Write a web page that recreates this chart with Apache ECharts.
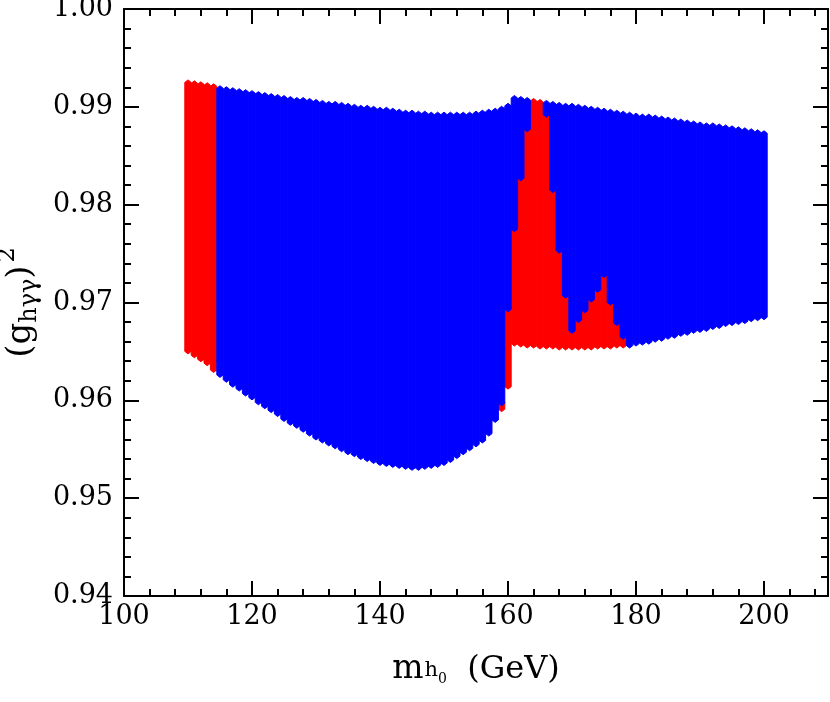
<!DOCTYPE html>
<html>
<head>
<meta charset="utf-8">
<script src="https://cdn.jsdelivr.net/npm/echarts@6/dist/echarts.min.js"></script>
<style>
  html, body { margin: 0; padding: 0; background: #fff; }
  #chart { width: 830px; height: 702px; }
</style>
</head>
<body>
<div id="chart"></div>
<script>
// Higgs mass scan, one column of points per GeV
let masses = [];
for (let m = 110; m <= 200; m++) masses.push(m);

// blue band (drawn on top), null where there is no blue point
let blueLow = [
    null, null, null, null, null,
    0.9626, 0.9621, 0.9616, 0.9612, 0.9607, 0.9603, 0.9598, 0.9594, 0.9590, 0.9586,
    0.9581, 0.9577, 0.9574, 0.9570, 0.9566, 0.9562, 0.9559, 0.9556, 0.9553, 0.9550,
    0.9547, 0.9545, 0.9542, 0.9540, 0.9538, 0.9536, 0.9535, 0.9534, 0.9533, 0.9532,
    0.9531, 0.9531, 0.9532, 0.9533, 0.9534, 0.9536, 0.9539, 0.9543, 0.9547, 0.9551,
    0.9555, 0.9559, 0.9566, 0.9580, 0.9597, 0.9693,
    0.9775, 0.9827, 0.9877, null, null, 0.9892, 0.9815, 0.9753, 0.9707, 0.9671,
    0.9682, 0.9692, 0.9703, 0.9713, 0.9728, 0.9700, 0.9679, 0.9665,
    0.9656, 0.9658, 0.9659, 0.9660, 0.9662, 0.9663, 0.9665, 0.9666, 0.9668, 0.9669,
    0.9671, 0.9672, 0.9673, 0.9675, 0.9676, 0.9678, 0.9679, 0.9680, 0.9681, 0.9683,
    0.9684, 0.9685
];
let blueHigh = [
    null, null, null, null, null,
    0.9919, 0.9918, 0.9917, 0.9916, 0.9915, 0.9914, 0.9913, 0.9912, 0.9911, 0.9910,
    0.9909, 0.9908, 0.9907, 0.9907, 0.9906, 0.9905, 0.9904, 0.9903, 0.9903, 0.9902,
    0.9901, 0.9900, 0.9899, 0.9899, 0.9898, 0.9897, 0.9897, 0.9896, 0.9895, 0.9894,
    0.9894, 0.9893, 0.9893, 0.9892, 0.9892, 0.9892, 0.9892, 0.9892, 0.9892, 0.9892,
    0.9893, 0.9894, 0.9895, 0.9896, 0.9898, 0.9901,
    0.9909, 0.9908, 0.9907, null, null, 0.9904, 0.9903, 0.9902, 0.9901, 0.9901,
    0.9900, 0.9899, 0.9898, 0.9897, 0.9896, 0.9895, 0.9894, 0.9893,
    0.9892, 0.9891, 0.9890, 0.9890, 0.9889, 0.9888, 0.9887, 0.9886, 0.9885, 0.9884,
    0.9883, 0.9882, 0.9881, 0.9881, 0.9880, 0.9879, 0.9878, 0.9877, 0.9876, 0.9875,
    0.9874, 0.9873
];

// red band (drawn underneath)
let redLow = [
    0.9650, 0.9646, 0.9642, 0.9638, 0.9631,
    null, null, null, null, null, null, null, null, null, null,
    null, null, null, null, null, null, null, null, null, null,
    null, null, null, null, null, null, null, null, null, null,
    null, null, null, null, null, null, null, null, null, null,
    null, null, null, null, 0.9591, 0.9614,
    0.9658, 0.9657, 0.9656, 0.9656, 0.9655, 0.9655, 0.9655, 0.9654, 0.9654, 0.9654,
    0.9654, 0.9654, 0.9654, 0.9655, 0.9655, 0.9655, 0.9656, 0.9656,
    null, null, null, null, null, null, null, null, null, null,
    null, null, null, null, null, null, null, null, null, null,
    null, null
];
let redHigh = [
    0.9925, 0.9924, 0.9923, 0.9922, 0.9921,
    null, null, null, null, null, null, null, null, null, null,
    null, null, null, null, null, null, null, null, null, null,
    null, null, null, null, null, null, null, null, null, null,
    null, null, null, null, null, null, null, null, null, null,
    null, null, null, null, 0.9598, 0.9693,
    0.9775, 0.9827, 0.9877, 0.9906, 0.9905, 0.9892, 0.9815, 0.9753, 0.9707, 0.9671,
    0.9682, 0.9692, 0.9703, 0.9713, 0.9728, 0.9700, 0.9679, 0.9665,
    null, null, null, null, null, null, null, null, null, null,
    null, null, null, null, null, null, null, null, null, null,
    null, null
];

let xTicks = { min: 100, max: 210, step: 20 };
let yTicks = { min: 0.94, max: 1.00, step: 0.01 };

function band(lo, hi) {
    let out = [];
    masses.forEach((m, i) => {
        if (lo[i] != null && hi[i] != null) out.push([m, lo[i], hi[i]]);
    });
    return out;
}

// one column of diamond markers -> rectangle with pointed ends
function renderColumn(params, api) {
    let m = api.value(0);
    let pLo = api.coord([m, api.value(1)]);
    let pHi = api.coord([m, api.value(2)]);
    let w = api.size([1, 0])[0];
    let x0 = pLo[0] - w / 2, x1 = pLo[0] + w / 2, xc = pLo[0];
    let tip = 2.5;
    let c = api.visual('color');
    return {
        type: 'polygon',
        shape: {
            points: [
                [x0, pHi[1]], [xc, pHi[1] - tip], [x1, pHi[1]],
                [x1, pLo[1]], [xc, pLo[1] + tip], [x0, pLo[1]]
            ]
        },
        style: { fill: c, stroke: c, lineWidth: 1 }
    };
}

let myChart = echarts.init(document.getElementById('chart'));
let font = 'DejaVu Serif';
let axisCommon = {
    type: 'value',
    axisLine: { show: true, lineStyle: { color: '#000', width: 2 } },
    axisTick: { show: true, inside: true, length: 15, lineStyle: { color: '#000', width: 2 } },
    minorTick: { show: true, splitNumber: 5, length: 7, lineStyle: { color: '#000', width: 2 } },
    splitLine: { show: false },
    minorSplitLine: { show: false }
};

let option = {
    backgroundColor: '#fff',
    animation: false,
    grid: { left: 124, right: 2, top: 9, bottom: 106, containLabel: false, outerBoundsMode: 'none' },
    xAxis: [
        Object.assign({}, axisCommon, {
            min: xTicks.min, max: xTicks.max, interval: xTicks.step,
            position: 'bottom',
            axisLabel: {
                color: '#000', fontFamily: font, fontSize: 27, margin: 7,
                showMaxLabel: false
            },
            name: '{m|m}{s1|h}{s2|0}{g|  (GeV)}',
            nameLocation: 'middle',
            nameGap: 42,
            nameTextStyle: {
                color: '#000', fontFamily: font,
                rich: {
                    m: { fontFamily: font, fontSize: 33, color: '#000', verticalAlign: 'bottom', lineHeight: 40 },
                    s1: { fontFamily: font, fontSize: 21, color: '#000', padding: [18, 0, 0, 1] },
                    s2: { fontFamily: font, fontSize: 14, color: '#000', padding: [34, 0, 0, 0] },
                    g: { fontFamily: font, fontSize: 32, color: '#000', verticalAlign: 'bottom', lineHeight: 40 }
                }
            }
        }),
        Object.assign({}, axisCommon, {
            min: xTicks.min, max: xTicks.max, interval: xTicks.step,
            position: 'top',
            axisLabel: { show: false }
        })
    ],
    yAxis: [
        Object.assign({}, axisCommon, {
            min: yTicks.min, max: yTicks.max, interval: yTicks.step,
            position: 'left',
            axisLabel: {
                color: '#000', fontFamily: font, fontSize: 27, margin: 11,
                formatter: v => v.toFixed(2)
            },
            name: '{p|(g}{s|hγγ}{p|)}{e|2}',
            nameLocation: 'middle',
            nameRotate: 90,
            nameGap: 72,
            nameTextStyle: {
                color: '#000', fontFamily: font,
                rich: {
                    p: { fontFamily: font, fontSize: 34, color: '#000' },
                    s: { fontFamily: font, fontSize: 24, color: '#000', padding: [18, 0, 0, 0] },
                    e: { fontFamily: font, fontSize: 24, color: '#000', padding: [0, 0, 26, 3] }
                }
            }
        }),
        Object.assign({}, axisCommon, {
            min: yTicks.min, max: yTicks.max, interval: yTicks.step,
            position: 'right',
            axisLabel: { show: false }
        })
    ],
    series: [
        {
            name: 'red',
            type: 'custom',
            renderItem: renderColumn,
            itemStyle: { color: '#ff0000' },
            encode: { x: 0, y: [1, 2] },
            data: band(redLow, redHigh),
            z: 2
        },
        {
            name: 'blue',
            type: 'custom',
            renderItem: renderColumn,
            itemStyle: { color: '#0000ff' },
            encode: { x: 0, y: [1, 2] },
            data: band(blueLow, blueHigh),
            z: 3
        }
    ]
};
myChart.setOption(option);
</script>
</body>
</html>
